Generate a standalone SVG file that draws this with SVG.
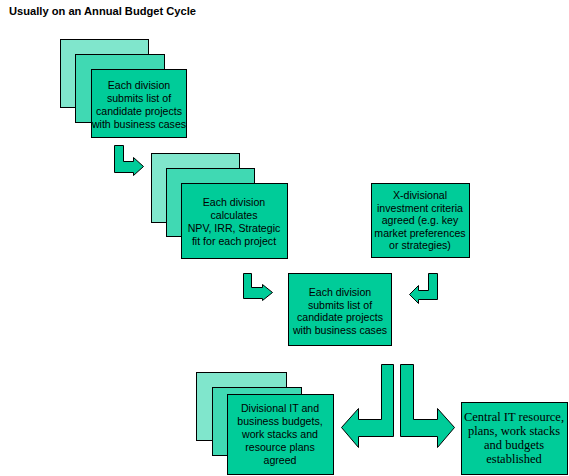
<svg xmlns="http://www.w3.org/2000/svg" width="569" height="476" viewBox="0 0 569 476">
<defs>
<style>
.back{fill:#80e6cc;stroke:#000;stroke-width:1.5;shape-rendering:crispEdges}
.mid{fill:#40d9b3;stroke:#000;stroke-width:1.5;shape-rendering:crispEdges}
.box{fill:#00cc99;stroke:#000;stroke-width:1.5;shape-rendering:crispEdges}
.arr{fill:#00cc99;stroke:#000;stroke-width:1}
.t{font-family:"Liberation Sans","DejaVu Sans",sans-serif;font-size:10.6px;fill:#000;text-anchor:middle}
.s{font-family:"Liberation Serif","Times New Roman",serif;font-size:12.5px;fill:#000;text-anchor:middle}
.title{font-family:"Liberation Sans","DejaVu Sans",sans-serif;font-size:11px;font-weight:bold;fill:#000}
</style>
</defs>
<text class="title" x="9" y="15" textLength="187" lengthAdjust="spacingAndGlyphs">Usually on an Annual Budget Cycle</text>

<g id="stack1">
<rect class="back" x="60.5" y="39.5" width="88" height="68"/>
<rect class="mid" x="75.5" y="54.5" width="89" height="68"/>
<rect class="box" x="91.5" y="69.5" width="95" height="68"/>
<text class="t" x="139" y="89">Each division</text>
<text class="t" x="139" y="102">submits list of</text>
<text class="t" x="139" y="115">candidate projects</text>
<text class="t" x="139" y="128">with business cases</text>
</g>

<g id="stack2">
<rect class="back" x="151.5" y="153.5" width="88" height="69"/>
<rect class="mid" x="166.5" y="168.5" width="88" height="68"/>
<rect class="box" x="181.5" y="183.5" width="106" height="75"/>
<text class="t" x="234" y="206">Each division</text>
<text class="t" x="234" y="219">calculates</text>
<text class="t" x="234" y="232">NPV, IRR, Strategic</text>
<text class="t" x="234" y="245">fit for each project</text>
</g>

<g id="criteria">
<rect class="box" x="371.5" y="183.5" width="98" height="74"/>
<text class="t" x="420" y="199">X-divisional</text>
<text class="t" x="420" y="211.5">investment criteria</text>
<text class="t" x="420" y="224">agreed (e.g. key</text>
<text class="t" x="420" y="236.5">market preferences</text>
<text class="t" x="420" y="249">or strategies)</text>
</g>

<g id="merged">
<rect class="box" x="288.5" y="273.5" width="103" height="72"/>
<text class="t" x="340" y="296">Each division</text>
<text class="t" x="340" y="308.5">submits list of</text>
<text class="t" x="340" y="321">candidate projects</text>
<text class="t" x="340" y="334">with business cases</text>
</g>

<g id="stack3">
<rect class="back" x="196.5" y="372.5" width="90" height="68"/>
<rect class="mid" x="212.5" y="387.5" width="89" height="68"/>
<rect class="box" x="227.5" y="394.5" width="106" height="80"/>
<text class="t" x="280" y="412">Divisional IT  and</text>
<text class="t" x="280" y="425">business budgets,</text>
<text class="t" x="280" y="438">work stacks and</text>
<text class="t" x="280" y="451">resource plans</text>
<text class="t" x="280" y="464">agreed</text>
</g>

<g id="central">
<rect class="box" x="461.5" y="402.5" width="106" height="72"/>
<text class="s" x="514" y="421">Central IT  resource,</text>
<text class="s" x="514" y="435">plans, work stacks</text>
<text class="s" x="514" y="449">and budgets</text>
<text class="s" x="514" y="463">established</text>
</g>

<g id="connectors">
<path class="arr" d="M114.5,145.5 H123.5 V161.5 H133.5 V157.5 L143.5,166.5 L133.5,175.5 V172.5 H114.5 Z"/>
<path class="arr" d="M243.5,273.5 H251.5 V287.5 H262.5 V284.5 L272.5,292.5 L262.5,300.5 V298.5 H243.5 Z"/>
<path class="arr" d="M437.5,273.5 H428.5 V290.5 H418.5 V285.5 L409.5,294.5 L418.5,303.5 V299.5 H437.5 Z"/>
<path class="arr" d="M393.5,364.5 H381.5 V419.5 H358.5 V408.5 L341.5,427.5 L358.5,447.5 V436.5 H393.5 Z"/>
<path class="arr" d="M400.5,364.5 H413.5 V419.5 H437.5 V408.5 L454.5,427.5 L437.5,447.5 V436.5 H400.5 Z"/>
</g>
</svg>
